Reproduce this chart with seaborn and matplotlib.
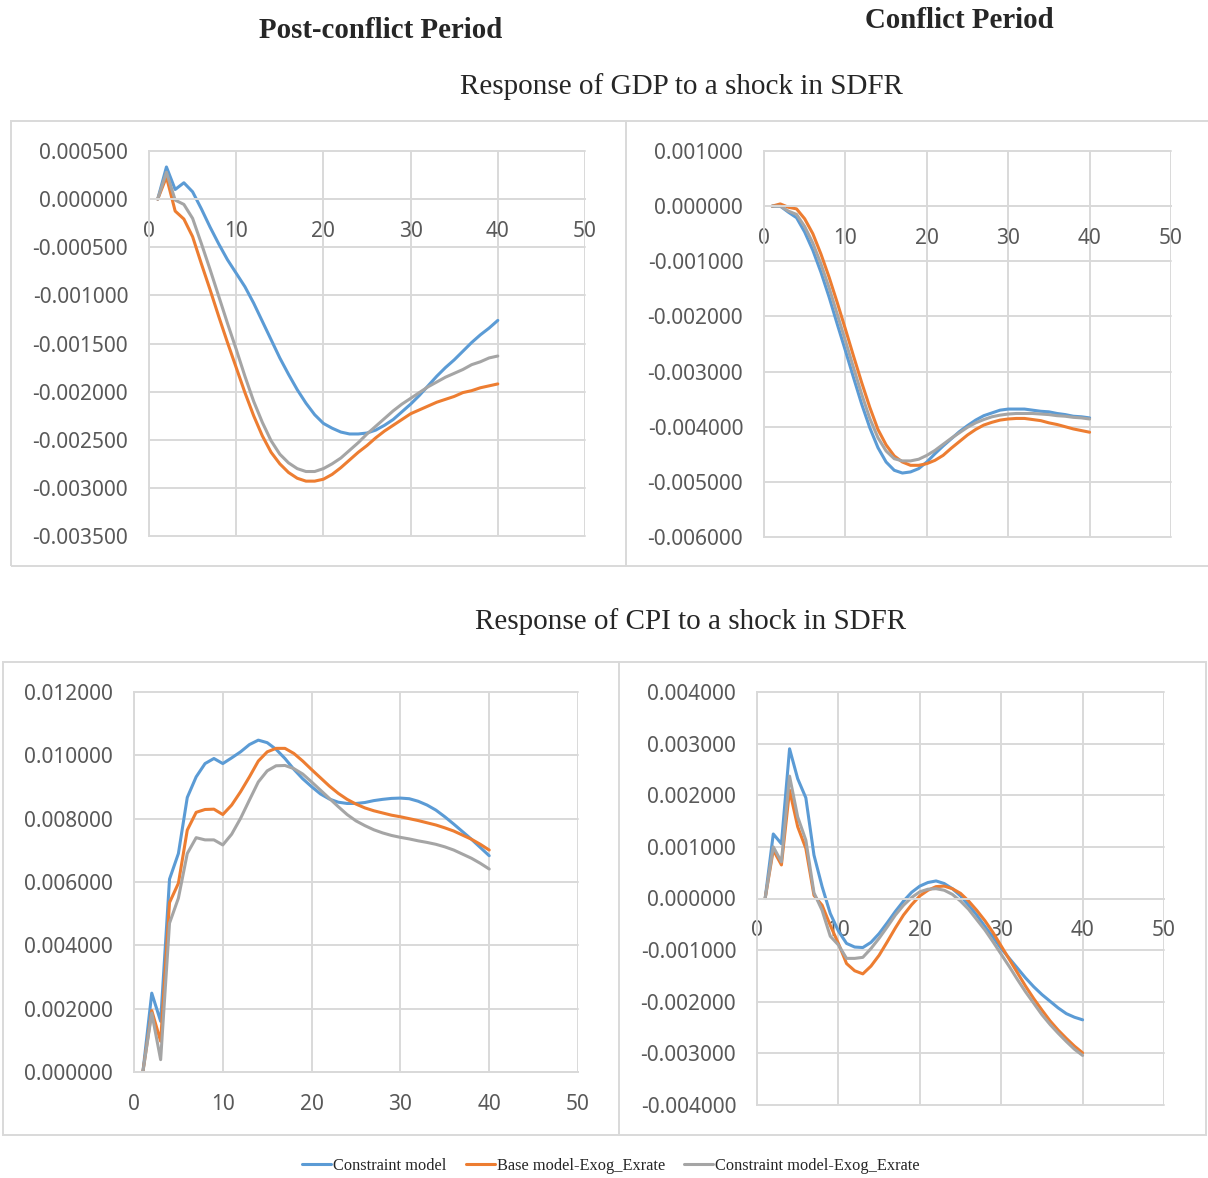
import matplotlib
matplotlib.use("Agg")
import matplotlib.pyplot as plt  # noqa: E402
import numpy as np  # noqa: E402
import pandas as pd  # noqa: E402
import seaborn as sns  # noqa: E402
from matplotlib.lines import Line2D  # noqa: E402
from matplotlib.patches import Rectangle  # noqa: E402
from matplotlib.ticker import FuncFormatter  # noqa: E402

# impulse-response horizons 1..40
periods = list(range(1, 41))
models = ["Constraint model", "Base model-Exog_Exrate", "Constraint model-Exog_Exrate"]
colors = ["#5B9BD5", "#ED7D31", "#A5A5A5"]

# Response of GDP, post-conflict period
gdp_post_constraint = [0, 0.000334, 0.00010, 0.00017, 0.000076, -0.00010, -0.00029, -0.000466, -0.00063, -0.00077,
                       -0.00091, -0.00108, -0.00127, -0.00146, -0.00165, -0.00182, -0.00198, -0.00212, -0.00224, -0.00233,
                       -0.00238, -0.00242, -0.00244, -0.00244, -0.00243, -0.00240, -0.00235, -0.00229, -0.00221, -0.00213,
                       -0.00204, -0.00194, -0.00184, -0.00175, -0.00167, -0.00158, -0.00149, -0.00141, -0.00134, -0.00126]
gdp_post_base = [0, 0.00023, -0.000124, -0.000207, -0.00039, -0.00067, -0.00094, -0.00122, -0.00149, -0.00175,
                 -0.00201, -0.00225, -0.00246, -0.00263, -0.00275, -0.00284, -0.00290, -0.00293, -0.00293, -0.00291,
                 -0.00286, -0.00279, -0.00271, -0.00263, -0.00256, -0.00248, -0.00241, -0.00235, -0.00229, -0.00223,
                 -0.00219, -0.00215, -0.00211, -0.00208, -0.00205, -0.00201, -0.00199, -0.00196, -0.00194, -0.00192]
gdp_post_constraint_exog = [0, 0.00028, -0.00001, -0.000055, -0.00020, -0.00046, -0.00073, -0.00101, -0.00129, -0.00156,
                            -0.00184, -0.00210, -0.00232, -0.00251, -0.00265, -0.00274, -0.00280, -0.00283, -0.00283, -0.00280,
                            -0.00275, -0.00269, -0.00261, -0.00253, -0.00244, -0.00236, -0.00228, -0.00220, -0.00213, -0.00207,
                            -0.00201, -0.00195, -0.00190, -0.00185, -0.00181, -0.00177, -0.00172, -0.00169, -0.00165, -0.00163]

# Response of GDP, conflict period
gdp_conf_constraint = [0, 0, -0.00011, -0.00021, -0.00047, -0.00080, -0.00120, -0.00165, -0.00214, -0.00262,
                       -0.00311, -0.00359, -0.00402, -0.00438, -0.00464, -0.00479, -0.00484, -0.00482, -0.00476, -0.00464,
                       -0.00449, -0.00435, -0.00422, -0.00409, -0.00398, -0.00388, -0.00380, -0.00375, -0.00370, -0.00368,
                       -0.00368, -0.00368, -0.00370, -0.00372, -0.00373, -0.00376, -0.00378, -0.00381, -0.00382, -0.00384]
gdp_conf_base = [0, 0.00004, -0.00002, -0.00005, -0.00023, -0.00050, -0.00087, -0.00129, -0.00175, -0.00223,
                 -0.00272, -0.00320, -0.00365, -0.00405, -0.00433, -0.00453, -0.00464, -0.00470, -0.00470, -0.00467,
                 -0.00461, -0.00452, -0.00439, -0.00427, -0.00415, -0.00405, -0.00397, -0.00392, -0.00388, -0.00386,
                 -0.00385, -0.00385, -0.00387, -0.00389, -0.00393, -0.00396, -0.00400, -0.00404, -0.00407, -0.00410]
gdp_conf_constraint_exog = [0, 0, -0.00009, -0.00015, -0.00037, -0.00067, -0.00105, -0.00148, -0.00196, -0.00244,
                            -0.00293, -0.00341, -0.00385, -0.00420, -0.00444, -0.00458, -0.00462, -0.00462, -0.00459, -0.00452,
                            -0.00443, -0.00432, -0.00421, -0.00411, -0.00401, -0.00393, -0.00387, -0.00382, -0.00379, -0.00377,
                            -0.00376, -0.00376, -0.00376, -0.00377, -0.00378, -0.00380, -0.00381, -0.00383, -0.00384, -0.00386]

# Response of CPI, post-conflict period
cpi_post_constraint = [0, 0.00249, 0.00160, 0.00609, 0.00690, 0.00867, 0.00932, 0.00974, 0.00990, 0.00974,
                       0.00992, 0.01011, 0.01034, 0.01048, 0.01040, 0.01019, 0.00990, 0.00956, 0.00926, 0.00901,
                       0.00878, 0.00862, 0.00852, 0.00848, 0.00848, 0.00851, 0.00857, 0.00861, 0.00864, 0.00865,
                       0.00863, 0.00855, 0.00843, 0.00827, 0.00806, 0.00783, 0.00759, 0.00735, 0.00709, 0.00683]
cpi_post_base = [0, 0.00194, 0.00097, 0.00535, 0.00596, 0.00764, 0.00820, 0.00829, 0.00830, 0.00813,
                 0.00843, 0.00885, 0.00932, 0.00982, 0.01011, 0.01022, 0.01022, 0.01006, 0.00982, 0.00955,
                 0.00929, 0.00903, 0.00880, 0.00861, 0.00846, 0.00834, 0.00825, 0.00818, 0.00811, 0.00806,
                 0.00800, 0.00794, 0.00787, 0.00780, 0.00771, 0.00761, 0.00748, 0.00735, 0.00719, 0.00701]
cpi_post_constraint_exog = [0, 0.00186, 0.00039, 0.00470, 0.00549, 0.00690, 0.00740, 0.00733, 0.00733, 0.00717,
                            0.00751, 0.00801, 0.00859, 0.00916, 0.00951, 0.00967, 0.00968, 0.00958, 0.00941, 0.00916,
                            0.00890, 0.00864, 0.00838, 0.00813, 0.00793, 0.00778, 0.00765, 0.00755, 0.00747, 0.00741,
                            0.00736, 0.00730, 0.00725, 0.00719, 0.00711, 0.00701, 0.00688, 0.00675, 0.00659, 0.00641]

# Response of CPI, conflict period
cpi_conf_constraint = [0, 0.00125, 0.00106, 0.00290, 0.00232, 0.00195, 0.00084, 0.00023, -0.00029, -0.00063,
                       -0.00087, -0.00094, -0.00095, -0.00085, -0.00068, -0.00047, -0.00025, -0.00005, 0.00012, 0.00024,
                       0.00031, 0.00034, 0.00029, 0.00019, 0.00005, -0.00013, -0.00032, -0.00054, -0.00075, -0.00097,
                       -0.00116, -0.00135, -0.00154, -0.00171, -0.00186, -0.00199, -0.00212, -0.00223, -0.00230, -0.00235]
cpi_conf_base = [0, 0.00094, 0.00065, 0.00210, 0.00139, 0.00097, 0.00006, -0.00013, -0.00052, -0.00087,
                 -0.00126, -0.00140, -0.00146, -0.00131, -0.00110, -0.00084, -0.00057, -0.00032, -0.00012, 0.00005,
                 0.00016, 0.00023, 0.00024, 0.00019, 0.00010, -0.00005, -0.00023, -0.00043, -0.00066, -0.00092,
                 -0.00118, -0.00144, -0.00170, -0.00194, -0.00216, -0.00237, -0.00255, -0.00271, -0.00286, -0.00299]
cpi_conf_constraint_exog = [0, 0.00100, 0.00071, 0.00237, 0.00158, 0.00113, 0.00011, -0.00023, -0.00073, -0.00090,
                            -0.00116, -0.00116, -0.00114, -0.00097, -0.00077, -0.00055, -0.00032, -0.00013, 0.00002, 0.00013,
                            0.00018, 0.00019, 0.00016, 0.00008, -0.00005, -0.00021, -0.00041, -0.00061, -0.00084, -0.00108,
                            -0.00132, -0.00157, -0.00181, -0.00203, -0.00225, -0.00244, -0.00261, -0.00277, -0.00292, -0.00304]

# y-axis ranges (min, max, step) per panel
gdp_post_yrange = (-0.0035, 0.0005, 0.0005)
gdp_conf_yrange = (-0.006, 0.001, 0.001)
cpi_post_yrange = (0.0, 0.012, 0.002)
cpi_conf_yrange = (-0.004, 0.004, 0.001)

W, H = 1208, 1178
GRID = "#d9d9d9"
TICK = "#595959"

sns.set_style("white")
plt.rcParams["font.family"] = ["Noto Sans", "DejaVu Sans"]


def fx(px):
    return px / W


def fy(py):
    return 1 - py / H


def long_frame(series):
    rows = []
    for name, vals in zip(models, series):
        for t, v in zip(periods, vals):
            rows.append({"period": t, "value": v, "model": name})
    return pd.DataFrame(rows)


def fmt(v, _pos):
    if abs(v) < 1e-12:
        v = 0.0
    return f"{v:.6f}"


def draw_panel(fig, box, series, yrange):
    left, top, right, bottom = box
    ax = fig.add_axes([fx(left), fy(bottom), fx(right - left), (bottom - top) / H])
    sns.lineplot(data=long_frame(series), x="period", y="value", hue="model",
                 hue_order=models, palette=colors, linewidth=2.2, legend=False,
                 errorbar=None, ax=ax)
    ymin, ymax, step = yrange
    n = int(round((ymax - ymin) / step))
    ax.set_yticks([ymin + i * step for i in range(n + 1)])
    ax.set_xticks([0, 10, 20, 30, 40, 50])
    ax.set_xlim(0, 50)
    ax.set_ylim(ymin, ymax)
    ax.yaxis.set_major_formatter(FuncFormatter(fmt))
    ax.grid(True, color=GRID, linewidth=1.4)
    for ln in ax.get_xgridlines() + ax.get_ygridlines():
        ln.set_clip_on(False)
    ax.set_axisbelow(True)
    for side in ["top", "right"]:
        ax.spines[side].set_visible(False)
    ax.spines["left"].set_color(GRID)
    ax.spines["left"].set_linewidth(1.4)
    ax.spines["bottom"].set_color(GRID)
    ax.spines["bottom"].set_linewidth(1.4)
    ax.spines["bottom"].set_position(("data", 0))
    ax.tick_params(axis="both", length=0, labelsize=15, labelcolor=TICK)
    ax.tick_params(axis="x", pad=15.5)
    ax.tick_params(axis="y", pad=15)
    ax.set_xlabel("")
    ax.set_ylabel("")
    return ax


fig = plt.figure(figsize=(W / 100, H / 100), dpi=100)

# outer chart frames
for (x0, y0, x1, y1) in [(11, 121, 1212, 566), (3, 662, 1206, 1135)]:
    fig.add_artist(Rectangle((fx(x0), fy(y1)), fx(x1 - x0), (y1 - y0) / H,
                             transform=fig.transFigure, fill=False,
                             edgecolor=GRID, linewidth=1.4))
fig.add_artist(Line2D([fx(626), fx(626)], [fy(121), fy(566)], transform=fig.transFigure,
                      color=GRID, linewidth=1.4))
fig.add_artist(Line2D([fx(619), fx(619)], [fy(662), fy(1135)], transform=fig.transFigure,
                      color=GRID, linewidth=1.4))

draw_panel(fig, (149, 151, 585, 536),
           [gdp_post_constraint, gdp_post_base, gdp_post_constraint_exog], gdp_post_yrange)
draw_panel(fig, (764, 151, 1171, 537),
           [gdp_conf_constraint, gdp_conf_base, gdp_conf_constraint_exog], gdp_conf_yrange)
draw_panel(fig, (134, 692, 578, 1072),
           [cpi_post_constraint, cpi_post_base, cpi_post_constraint_exog], cpi_post_yrange)
draw_panel(fig, (757, 692, 1164, 1105),
           [cpi_conf_constraint, cpi_conf_base, cpi_conf_constraint_exog], cpi_conf_yrange)

serif = ["Liberation Serif", "DejaVu Serif"]
fig.text(fx(381), fy(30), "Post-conflict Period", ha="center", va="center",
         fontsize=20.8, fontweight="bold", family=serif)
fig.text(fx(959), fy(20), "Conflict Period", ha="center", va="center",
         fontsize=20.8, fontweight="bold", family=serif)
fig.text(fx(681), fy(87), "Response of GDP to a shock in SDFR", ha="center", va="center",
         fontsize=21, family=serif)
fig.text(fx(691), fy(622), "Response of CPI to a shock in SDFR", ha="center", va="center",
         fontsize=21, family=serif)

handles = [Line2D([], [], color=c, linewidth=2.2) for c in colors]
fig.legend(handles, models, loc="center", bbox_to_anchor=(fx(611), fy(1166)), ncol=3,
           frameon=False, handlelength=1.75, handletextpad=0.12, columnspacing=1.2,
           prop={"family": serif, "size": 11.8})

fig.savefig("out.png", dpi=100)
